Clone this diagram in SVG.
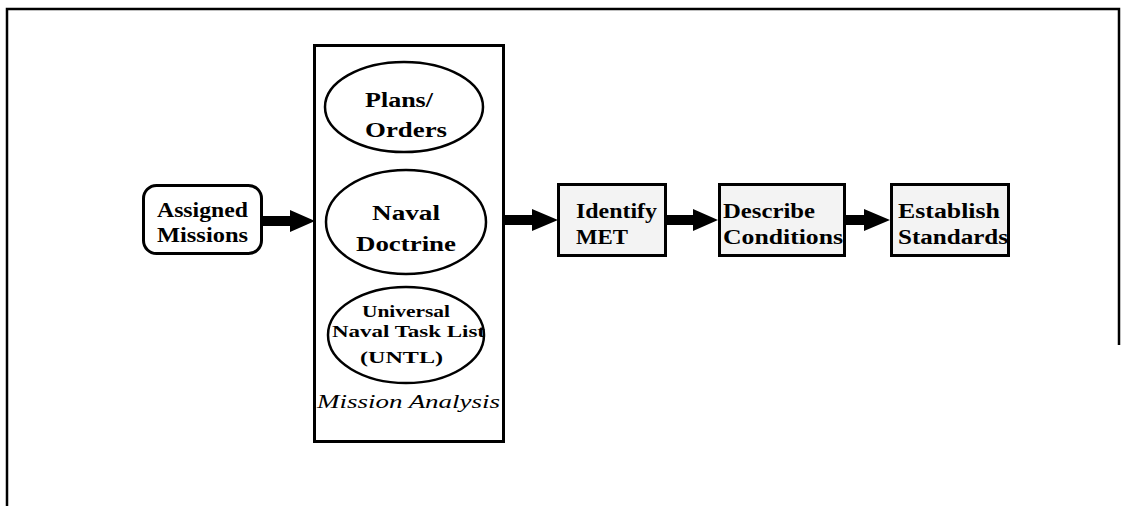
<svg xmlns="http://www.w3.org/2000/svg" width="1124" height="506" viewBox="0 0 1124 506">
<style>
.t{font-family:"Liberation Serif","Times New Roman",serif;font-weight:bold;font-size:20px;fill:#000}
.s{font-size:17px}
.i{font-family:"Liberation Serif","Times New Roman",serif;font-style:italic;font-size:19px;fill:#000}
.box{fill:#f3f3f3;stroke:#000;stroke-width:3}
.ell{fill:#fff;stroke:#000;stroke-width:2.5}
.arr{fill:#000}
</style>
<rect width="1124" height="506" fill="#fff"/>
<g id="frame" fill="none" stroke="#000" stroke-width="2.5">
<path d="M7 506 V9 H1119 V345"/>
</g>
<g id="assigned">
<rect x="143.5" y="185.5" width="118" height="68" rx="13" fill="#fff" stroke="#000" stroke-width="3"/>
<text class="t" x="157" y="217" textLength="91" lengthAdjust="spacingAndGlyphs">Assigned</text>
<text class="t" x="157" y="242" textLength="91" lengthAdjust="spacingAndGlyphs">Missions</text>
</g>
<g id="mission-analysis">
<rect x="314.5" y="45.5" width="189" height="396" fill="#fff" stroke="#000" stroke-width="3"/>
<text class="i" x="317" y="408" textLength="183" lengthAdjust="spacingAndGlyphs">Mission Analysis</text>
</g>
<g id="plans-orders">
<ellipse class="ell" cx="404" cy="107" rx="79" ry="45"/>
<text class="t" x="365" y="107" textLength="68" lengthAdjust="spacingAndGlyphs">Plans/</text>
<text class="t" x="365" y="137" textLength="82" lengthAdjust="spacingAndGlyphs">Orders</text>
</g>
<g id="naval-doctrine">
<ellipse class="ell" cx="406" cy="222" rx="80" ry="52"/>
<text class="t" x="372" y="220" textLength="68" lengthAdjust="spacingAndGlyphs">Naval</text>
<text class="t" x="356" y="251" textLength="100" lengthAdjust="spacingAndGlyphs">Doctrine</text>
</g>
<g id="untl">
<ellipse class="ell" cx="406" cy="335" rx="78" ry="48"/>
<text class="t s" x="362" y="317" textLength="88" lengthAdjust="spacingAndGlyphs">Universal</text>
<text class="t s" x="332" y="337" textLength="153" lengthAdjust="spacingAndGlyphs">Naval Task List</text>
<text class="t s" x="360" y="363" textLength="83" lengthAdjust="spacingAndGlyphs">(UNTL)</text>
</g>
<g id="identify-met">
<rect class="box" x="558.5" y="184.5" width="107" height="71"/>
<text class="t" x="576" y="218" textLength="81" lengthAdjust="spacingAndGlyphs">Identify</text>
<text class="t" x="576" y="244" textLength="52" lengthAdjust="spacingAndGlyphs">MET</text>
</g>
<g id="describe-conditions">
<rect class="box" x="719.5" y="184.5" width="125" height="71"/>
<text class="t" x="723" y="218" textLength="92" lengthAdjust="spacingAndGlyphs">Describe</text>
<text class="t" x="723" y="244" textLength="120" lengthAdjust="spacingAndGlyphs">Conditions</text>
</g>
<g id="establish-standards">
<rect class="box" x="891.5" y="184.5" width="117" height="71"/>
<text class="t" x="898" y="218" textLength="102" lengthAdjust="spacingAndGlyphs">Establish</text>
<text class="t" x="898" y="244" textLength="110" lengthAdjust="spacingAndGlyphs">Standards</text>
</g>
<g id="connectors">
<polygon class="arr" points="263,216 290,216 290,210 315,221 290,232 290,226 263,226"/>
<polygon class="arr" points="505,215 532,215 532,209 558,220 532,231 532,225 505,225"/>
<polygon class="arr" points="667,215 693,215 693,209 718,220 693,231 693,225 667,225"/>
<polygon class="arr" points="846,215 864,215 864,209 890,220 864,231 864,225 846,225"/>
</g>
</svg>
